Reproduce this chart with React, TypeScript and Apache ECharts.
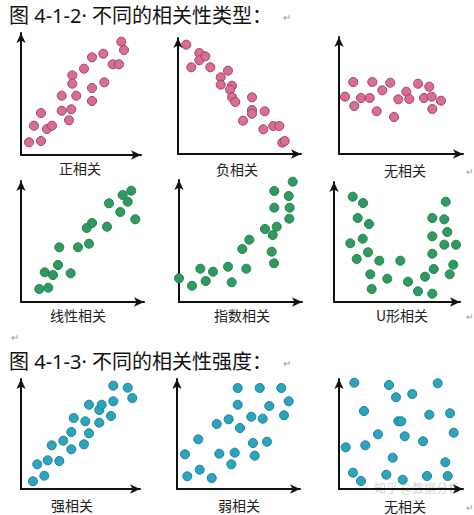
import React, { useEffect, useRef } from "react";
import * as echarts from "echarts";

// Point data: [x, y] measured in pixels from each panel's axis origin
const positiveData: number[][] = [
  [8, 12.7], [20, 14], [13, 29.3], [20, 42], [26, 26], [31, 29.3], [40.7, 44.3], [40.7, 59.3],
  [48, 34.7], [50.3, 45.7], [55.3, 59.3], [51.3, 79.7], [51.3, 71.3], [63, 86.3], [71, 97.7],
  [71, 67], [71, 54], [82.3, 101.3], [83.3, 72.7], [91.7, 90.7], [98, 90.7], [100.3, 113.3], [103, 105],
];
const negativeData: number[][] = [
  [8.3, 109.3], [13.3, 86.7], [21.3, 101], [21.3, 93.7], [27.3, 97.7], [32.3, 86.7], [42.7, 76.7],
  [42.7, 69.3], [50, 83.3], [54, 68.3], [52, 64.3], [54, 56.7], [57.3, 52], [65, 33.3], [74, 56.7],
  [74, 44], [74, 40.3], [86.7, 42.7], [85.3, 24.7], [95.3, 28], [101.3, 28], [104.3, 11.3], [106.7, 13],
];
const noCorrData1: number[][] = [
  [6, 57.3], [14.3, 72], [15.3, 48], [22, 56], [30.7, 56], [33.3, 72], [37.7, 42.7], [43.3, 63.7],
  [51.3, 71.3], [55, 37], [59.3, 54.7], [67.3, 62.3], [70.3, 55], [79, 70.3], [85, 56], [90.3, 67.3],
  [92.7, 57.3], [93.3, 45], [102, 53.3],
];
const linearData: number[][] = [
  [18.3, 13], [27.3, 14.3], [23.7, 29.7], [32, 27], [37, 37], [38.3, 54.7], [49.7, 28.7], [57, 54.7],
  [68, 58.3], [65.7, 74], [71, 79], [86, 75.3], [88, 98.7], [99.3, 90], [101.7, 107], [106.7, 100.3],
  [110.3, 111.3], [114.3, 82.7],
];
const expData: number[][] = [
  [0, 23.7], [13, 16.3], [21.3, 33.3], [26.7, 21], [34, 30.3], [49, 35.3], [52.7, 19.7], [67.3, 33.3],
  [63.3, 53], [70.3, 62.3], [86, 73], [93.7, 67], [97.7, 75.3], [92.7, 50.3], [95, 38.7], [95.3, 111],
  [95.3, 94.3], [109.7, 106], [110.7, 94.3], [110.3, 83.3], [113.7, 120.3],
];
const uShapeData: number[][] = [
  [18.7, 105.3], [29, 99], [23.7, 84], [35, 78], [16.3, 58.7], [28.7, 63.3], [22.7, 43], [34, 49.7],
  [45.3, 41.3], [36.3, 27.7], [37.7, 13], [53.3, 23.3], [66.3, 41.3], [74, 20.3], [84, 10.7], [91, 25.3],
  [98.3, 8.3], [99.7, 33], [98.3, 48.3], [98.3, 65.7], [98.3, 84], [110.3, 82.7], [111.7, 100.3],
  [113.3, 70], [110.3, 57.3], [122, 57.3], [119.3, 37.3], [115.7, 27.7],
];
const strongData: number[][] = [
  [12, 7.7], [23.3, 13.3], [16.3, 24.7], [26.7, 28.7], [38.3, 28], [30.7, 43.7], [42.3, 48.3],
  [50.3, 39.7], [50.3, 57], [52.7, 71], [63, 44.7], [68, 55.7], [64.3, 67.7], [68, 84.3], [78.3, 66.3],
  [78.3, 79], [80.7, 84.3], [90, 73], [92.3, 87.7], [92.3, 103.3], [106.7, 101.3], [111.3, 91],
];
const weakData: number[][] = [
  [10.3, 12.7], [8, 34.7], [22.7, 19.3], [34.7, 11], [21.3, 49.7], [39.7, 65], [42.3, 35.3], [54.3, 24.7],
  [57.7, 36.3], [51.7, 69.7], [63, 61], [60.7, 101], [60.7, 84.3], [74.3, 72.3], [76, 46], [77.7, 33.3],
  [82.7, 101], [85.7, 70.3], [90, 47.3], [92.3, 83], [104.3, 101], [111.7, 87.7], [107, 73.7],
];
const noCorrData2: number[][] = [
  [15.3, 106.3], [50, 104], [57, 91.7], [73.3, 95], [98.7, 105.7], [25, 78], [59.3, 67.7], [62.3, 67.7],
  [90.3, 74.3], [111, 75.7], [39, 54.7], [65.7, 52.7], [84, 47.7], [114.7, 56.3], [6.7, 41.7],
  [26.3, 43.7], [53.7, 31.3], [106.3, 26.7], [14, 16.3], [22, 8], [47.3, 14.3], [63.7, 9.3], [88, 13], [108.7, 13],
];

const panelLabels = ["正相关", "负相关", "无相关", "线性相关", "指数相关", "U形相关", "强相关", "弱相关", "无相关"];
const titleTexts = ["图 4-1-2· 不同的相关性类型：", "图 4-1-3· 不同的相关性强度："];

const pink = { color: "#d96f90", borderColor: "#a3415f" };
const green = { color: "#2e9a5f", borderColor: "#23804d" };
const teal = { color: "#2aa5bd", borderColor: "#1d7f93" };

// layout: [left, top, width, height, labelX, labelY]
const panels: { box: number[]; data: number[][]; style: any }[] = [
  { box: [21, 33, 120, 122, 80, 168], data: positiveData, style: pink },
  { box: [178, 38, 123, 116, 237, 169], data: negativeData, style: pink },
  { box: [339, 37, 124, 117, 405, 170], data: noCorrData1, style: pink },
  { box: [21, 181, 123, 121, 78, 315], data: linearData, style: green },
  { box: [179, 180, 123, 122, 242, 315], data: expData, style: green },
  { box: [334, 182, 126, 120, 402, 315], data: uShapeData, style: green },
  { box: [21, 379, 119, 110, 72, 505], data: strongData, style: teal },
  { box: [177, 379, 123, 110, 239, 505], data: weakData, style: teal },
  { box: [339, 379, 124, 110, 405, 506], data: noCorrData2, style: teal },
];

const FONT = "'Noto Sans CJK SC', 'Noto Sans', sans-serif";
const TITLE_FONT = "'Noto Sans', 'Noto Sans CJK SC', sans-serif";

export default function App() {
  const ref = useRef<HTMLDivElement>(null);
  useEffect(() => {
    if (!ref.current) return;
    const chart = echarts.init(ref.current, undefined, { renderer: "svg" });
    const axisLine = {
      show: true,
      onZero: false,
      symbol: ["none", "arrow"],
      symbolSize: [7, 10],
      lineStyle: { color: "#111", width: 2 },
    };
    const common = {
      type: "value" as const,
      min: 0,
      axisLine,
      axisTick: { show: false },
      axisLabel: { show: false },
      splitLine: { show: false },
    };
    const grid = panels.map((p) => ({
      left: p.box[0], top: p.box[1], width: p.box[2], height: p.box[3],
    }));
    const xAxis = panels.map((p, i) => ({ ...common, gridIndex: i, max: p.box[2] }));
    const yAxis = panels.map((p, i) => ({ ...common, gridIndex: i, max: p.box[3] }));
    const series = panels.map((p, i) => ({
      type: "scatter",
      xAxisIndex: i,
      yAxisIndex: i,
      data: p.data,
      symbolSize: 9,
      clip: false,
      itemStyle: { ...p.style, borderWidth: 1, opacity: 1 },
    }));
    const graphic: any[] = [
      { type: "text", left: 9, top: 5, style: { text: titleTexts[0], font: `20px ${TITLE_FONT}`, fill: "#111" } },
      { type: "text", left: 283, top: 11, style: { text: "↵", font: `10px ${FONT}`, fill: "#999" } },
      { type: "text", left: 9, top: 351, style: { text: titleTexts[1], font: `20px ${TITLE_FONT}`, fill: "#111" } },
      { type: "text", left: 283, top: 357, style: { text: "↵", font: `10px ${FONT}`, fill: "#999" } },
      { type: "text", left: 11, top: 331, style: { text: "↵", font: `10px ${FONT}`, fill: "#999" } },
      { type: "text", left: 466, top: 167, style: { text: "↵", font: `9px ${FONT}`, fill: "#999" } },
      { type: "text", left: 466, top: 312, style: { text: "↵", font: `9px ${FONT}`, fill: "#999" } },
      { type: "text", left: 466, top: 503, style: { text: "↵", font: `9px ${FONT}`, fill: "#999" } },
      { type: "text", left: 374, top: 481, style: { text: "知乎 @数据分析", font: `12px ${FONT}`, fill: "#d4d4d4" } },
      ...panels.map((p, i) => ({
        type: "text",
        x: p.box[4],
        y: p.box[5],
        style: {
          text: panelLabels[i],
          font: `14px ${FONT}`,
          fill: "#222",
          textAlign: "center",
          textVerticalAlign: "middle",
        },
      })),
    ];
    chart.setOption({
      animation: false,
      backgroundColor: "#ffffff",
      grid,
      xAxis,
      yAxis,
      series,
      graphic,
    });
    return () => chart.dispose();
  }, []);
  return (
    <div
      ref={ref}
      style={{ position: "fixed", left: 0, top: 0, width: 474, height: 515, background: "#fff" }}
    />
  );
}
